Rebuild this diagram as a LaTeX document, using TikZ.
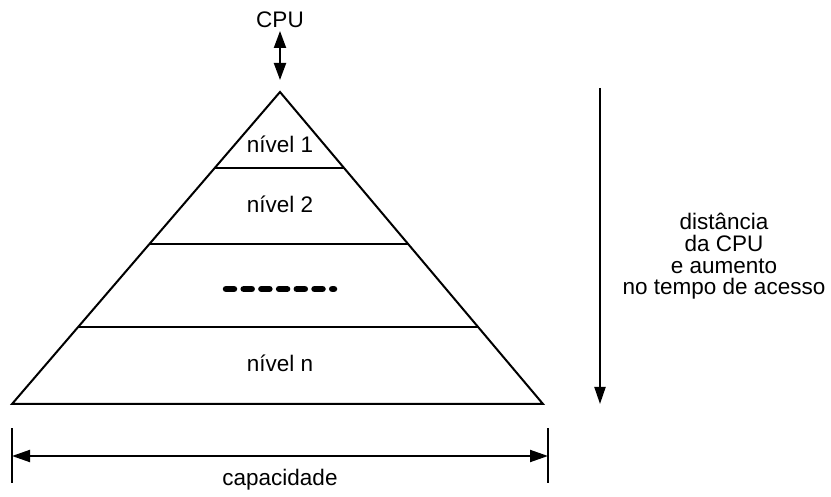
\documentclass[tikz,border=0pt]{standalone}
\usepackage{fontspec}
\setmainfont{Liberation Sans}
\usetikzlibrary{arrows.meta,calc}
\begin{document}
\begin{tikzpicture}[x=1pt,y=-1pt,
  txt/.style={font=\fontsize{22.5}{21.8}\selectfont, inner sep=0pt, anchor=base},
  edge/.style={line width=2pt, line join=miter},
  tip/.style={-{Triangle[length=17pt,width=11pt]}}
]
\useasboundingbox[fill=white] (0,0) rectangle (831,497);
% pyramid
\coordinate (A) at (280,92);
\coordinate (BL) at (12,404);
\coordinate (BR) at (543,404);
\draw[edge] (A) -- (BL) -- (BR) -- cycle;
\draw[edge] ($(A)!0.2436!(BL)$) -- ($(A)!0.2436!(BR)$);
\draw[edge] ($(A)!0.487!(BL)$) -- ($(A)!0.487!(BR)$);
\draw[edge] ($(A)!0.753!(BL)$) -- ($(A)!0.753!(BR)$);
% labels
\node[txt] (n1) at (280,153) {nível 1};
\node[txt] (n2) at (280,213) {nível 2};
\node[txt] (nn) at (280,372) {nível n};
\coordinate (d1) at (226,289);
\coordinate (d2) at (334,289);
\draw[line width=6.5pt, line cap=round, dash pattern=on 8pt off 9.7pt] (d1) -- (d2);
% CPU
\node[txt] (cpu) at (280,28) {CPU};
\coordinate (cpuT) at (280,31);
\coordinate (cpuB) at (280,80);
\draw[line width=2pt, {Triangle[length=17pt,width=12pt]}-{Triangle[length=17pt,width=12pt]}] (cpuT) -- (cpuB);
% right arrow
\coordinate (rT) at (600,88);
\coordinate (rB) at (600,404);
\draw[line width=2pt, tip] (rT) -- (rB);
\node[txt, align=center, anchor=north] (dist) at (724,213) {distância\\da CPU\\e aumento\\no tempo de acesso};
% capacity
\coordinate (cL1) at (12,428);
\coordinate (cL2) at (12,483);
\coordinate (cR1) at (548,428);
\coordinate (cR2) at (548,483);
\coordinate (cL) at (12,456);
\coordinate (cR) at (548,456);
\draw[line width=2pt] (cL1) -- (cL2);
\draw[line width=2pt] (cR1) -- (cR2);
\draw[line width=2pt, {Triangle[length=18pt,width=12pt]}-{Triangle[length=18pt,width=12pt]}] (cL) -- (cR);
\node[txt] (cap) at (280,485) {capacidade};
\end{tikzpicture}
\end{document}
